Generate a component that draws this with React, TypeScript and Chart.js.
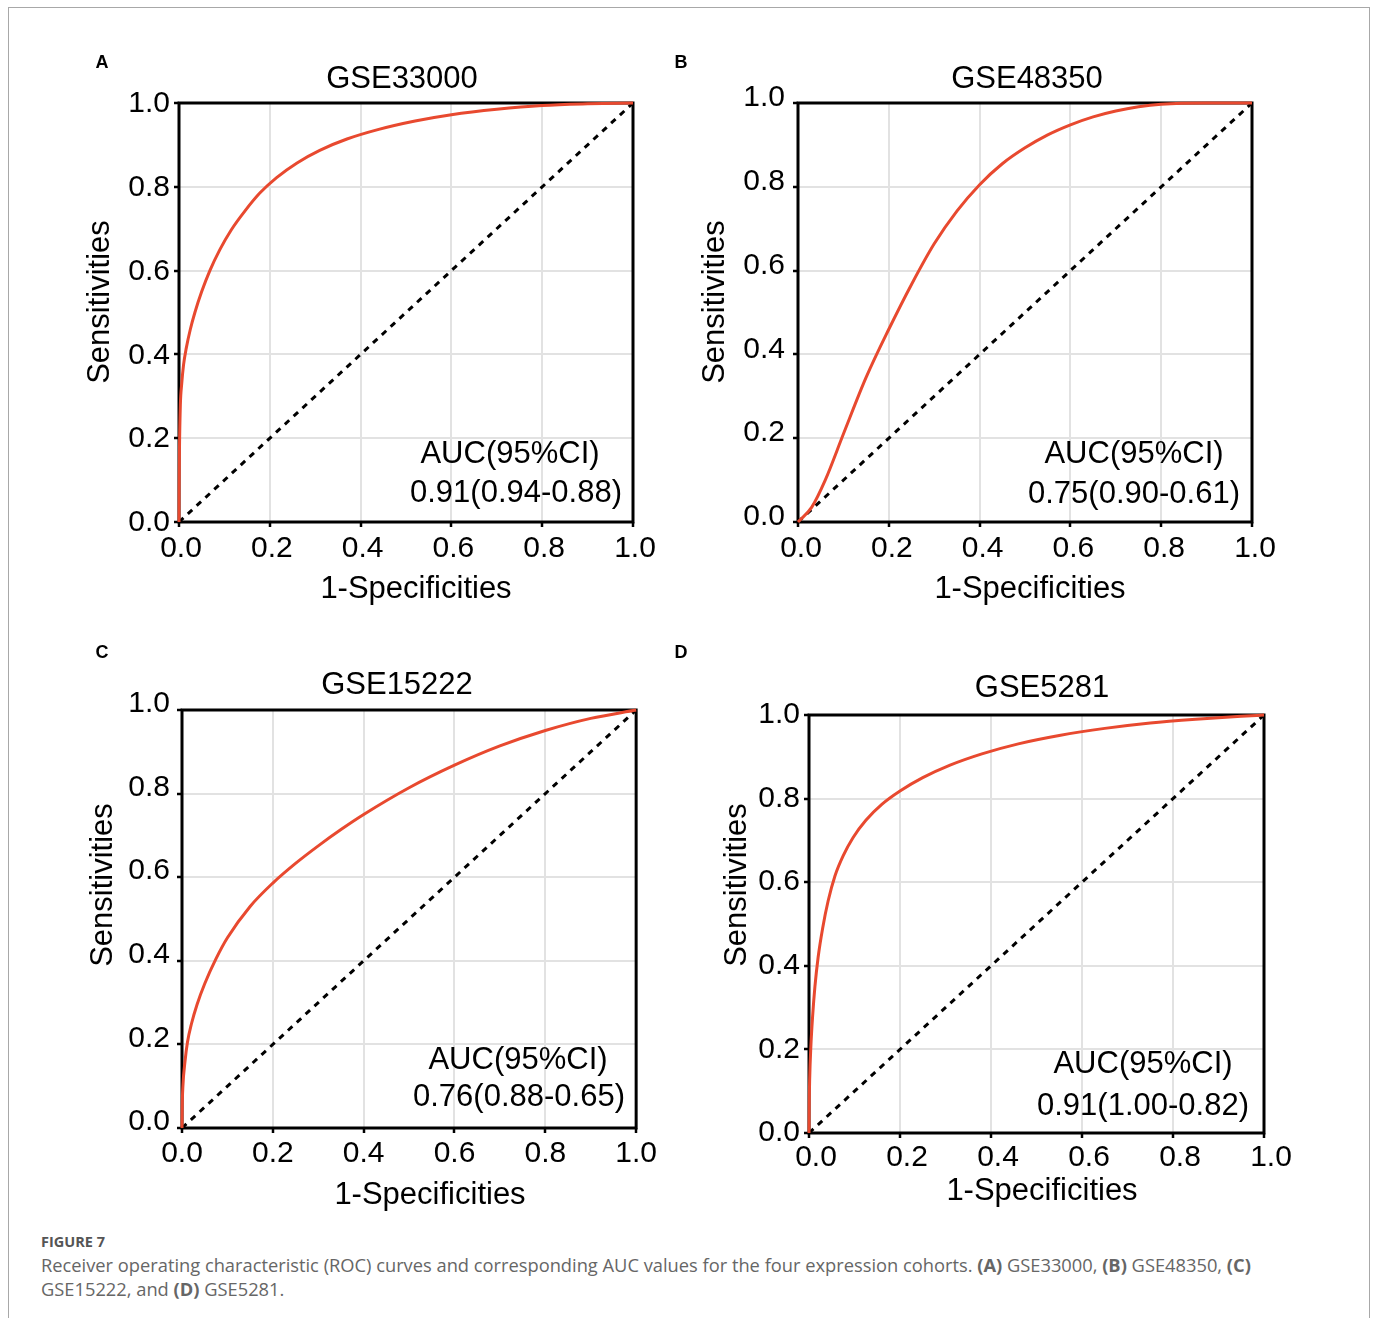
import React, { useEffect, useRef } from "react";
import { Chart, registerables } from "chart.js";

Chart.register(...registerables);

// ---------- data ----------
const tickValues = [0, 0.2, 0.4, 0.6, 0.8, 1.0];
const diagX = [0, 1];
const diagY = [0, 1];

const fprA = [0, 0.0003, 0.001, 0.003, 0.006, 0.01, 0.016, 0.025, 0.035, 0.05, 0.068, 0.09, 0.115, 0.145, 0.178, 0.215, 0.26, 0.31, 0.37, 0.44, 0.52, 0.6, 0.7, 0.8, 0.9, 1.0];
const sensA = [0, 0.08, 0.17, 0.28, 0.33, 0.375, 0.415, 0.46, 0.5, 0.55, 0.6, 0.65, 0.697, 0.742, 0.785, 0.822, 0.857, 0.887, 0.914, 0.937, 0.957, 0.972, 0.985, 0.994, 0.998, 1.0];

const fprB = [0, 0.03, 0.06, 0.1, 0.15, 0.2, 0.25, 0.3, 0.35, 0.4, 0.45, 0.5, 0.55, 0.6, 0.65, 0.7, 0.75, 0.8, 0.9, 1.0];
const sensB = [0, 0.035, 0.1, 0.21, 0.345, 0.46, 0.567, 0.664, 0.742, 0.805, 0.855, 0.893, 0.924, 0.948, 0.967, 0.981, 0.991, 0.997, 1.0, 1.0];

const fprC = [0, 0.0005, 0.002, 0.0067, 0.012, 0.021, 0.033, 0.05, 0.075, 0.1, 0.15, 0.2, 0.25, 0.3, 0.35, 0.4, 0.5, 0.6, 0.7, 0.8, 0.9, 1.0];
const sensC = [0, 0.05, 0.1, 0.16, 0.205, 0.25, 0.295, 0.345, 0.405, 0.455, 0.53, 0.586, 0.633, 0.675, 0.714, 0.75, 0.814, 0.868, 0.914, 0.951, 0.98, 1.0];

const fprD = [0, 0.0005, 0.0015, 0.004, 0.008, 0.013, 0.02, 0.03, 0.042, 0.057, 0.075, 0.097, 0.125, 0.16, 0.2, 0.25, 0.31, 0.38, 0.46, 0.55, 0.65, 0.75, 0.85, 0.95, 1.0];
const sensD = [0, 0.07, 0.13, 0.205, 0.28, 0.35, 0.42, 0.49, 0.555, 0.615, 0.663, 0.707, 0.748, 0.786, 0.818, 0.85, 0.88, 0.907, 0.931, 0.951, 0.968, 0.981, 0.99, 0.997, 1.0];

const panelLetters = ["A", "B", "C", "D"];
const cohortNames = ["GSE33000", "GSE48350", "GSE15222", "GSE5281"];
const aucHeader = "AUC(95%CI)";
const aucValues = ["0.91(0.94-0.88)", "0.75(0.90-0.61)", "0.76(0.88-0.65)", "0.91(1.00-0.82)"];
const xTitle = "1-Specificities";
const yTitle = "Sensitivities";

// ---------- layout (page coordinates) ----------
type Layout = {
  box: number[]; plot: number[];
  letter: number[]; title: number[]; xt: number[]; yt: number[]; a1: number[]; a2: number[];
  yPad: number; yOff: number; xPad: number; xOff: number;
};
const layouts: Layout[] = [
  { box: [40, 30, 620, 600], plot: [179, 103, 633, 522], letter: [102, 62], title: [402, 77], xt: [416, 587], yt: [98, 302], a1: [510, 452], a2: [516, 491], yPad: 4, yOff: 1, xPad: 4, xOff: 2 },
  { box: [660, 30, 665, 600], plot: [798, 103, 1252, 522], letter: [681, 62], title: [1027, 77], xt: [1030, 587], yt: [713, 302], a1: [1134, 452], a2: [1134, 492], yPad: 8, yOff: -5, xPad: 4, xOff: 3 },
  { box: [40, 630, 620, 590], plot: [182, 710, 637, 1128], letter: [102, 652], title: [397, 683], xt: [430, 1193], yt: [101, 885], a1: [518, 1058], a2: [519, 1095], yPad: 7, yOff: -6, xPad: 3, xOff: 0 },
  { box: [660, 630, 700, 590], plot: [809, 715, 1264, 1133], letter: [681, 652], title: [1042, 686], xt: [1042, 1189], yt: [735, 885], a1: [1143, 1062], a2: [1143, 1104], yPad: 4, yOff: 0, xPad: 2, xOff: 7 },
];

const seriesFpr = [fprA, fprB, fprC, fprD];
const seriesSens = [sensA, sensB, sensC, sensD];

const FONT = '"Liberation Sans", Arial, Helvetica, sans-serif';
const RED = "#E8492F";
const GRID = "#e2e2e2";

function RocPanel({ idx }: { idx: number }) {
  const ref = useRef<HTMLCanvasElement>(null);
  const lay = layouts[idx];
  const [L, T, W, H] = lay.box;

  useEffect(() => {
    if (!ref.current) return;
    const [pl, pt, pr, pb] = lay.plot;

    const put = (ctx: CanvasRenderingContext2D, text: string, pos: number[], size: number, bold = false, rot = false) => {
      ctx.save();
      ctx.font = `${bold ? "bold " : ""}${size}px ${FONT}`;
      ctx.fillStyle = "#000";
      ctx.textAlign = "center";
      ctx.textBaseline = "alphabetic";
      ctx.translate(pos[0] - L, pos[1] - T);
      if (rot) ctx.rotate(-Math.PI / 2);
      ctx.fillText(text, 0, size * 0.358);
      ctx.restore();
    };

    const deco = {
      id: "rocDeco",
      beforeDatasetsDraw(chart: any) {
        const { ctx, chartArea: a } = chart;
        ctx.save();
        ctx.strokeStyle = "#000";
        ctx.lineWidth = 3;
        ctx.strokeRect(a.left, a.top, a.right - a.left, a.bottom - a.top);
        ctx.restore();
      },
      afterDraw(chart: any) {
        const ctx = chart.ctx;
        put(ctx, panelLetters[idx], lay.letter, 18, true);
        put(ctx, cohortNames[idx], lay.title, 31);
        put(ctx, xTitle, lay.xt, 31);
        put(ctx, yTitle, lay.yt, 31, false, true);
        put(ctx, aucHeader, lay.a1, 31);
        put(ctx, aucValues[idx], lay.a2, 31);
      },
    };

    const fpr = seriesFpr[idx];
    const sens = seriesSens[idx];

    const axisCommon = (isX: boolean) => ({
      type: "linear" as const,
      min: 0,
      max: 1,
      afterBuildTicks: (s: any) => {
        s.ticks = tickValues.map((v) => ({ value: v }));
      },
      afterFit: (s: any) => {
        if (isX) s.height = T + H - pb;
        else s.width = pl - L;
      },
      ticks: {
        color: "#000",
        font: { family: FONT, size: 30 },
        padding: isX ? lay.xPad : lay.yPad,
        labelOffset: isX ? lay.xOff : lay.yOff,
        maxRotation: 0,
        autoSkip: false,
        callback: (v: any) => Number(v).toFixed(1),
      },
      grid: {
        color: GRID,
        lineWidth: 2,
        tickLength: 5,
        tickColor: "#000",
        tickWidth: 2.5,
      },
      border: { display: false },
    });

    const chart = new Chart(ref.current, {
      type: "scatter",
      data: {
        datasets: [
          {
            data: fpr.map((x, i) => ({ x, y: sens[i] })),
            showLine: true,
            borderColor: RED,
            borderWidth: 3,
            pointRadius: 0,
            cubicInterpolationMode: "monotone",
            clip: false,
          } as any,
          {
            data: diagX.map((x, i) => ({ x, y: diagY[i] })),
            showLine: true,
            borderColor: "#000",
            borderWidth: 3,
            borderDash: [6, 6],
            pointRadius: 0,
            clip: false,
          } as any,
        ],
      },
      options: {
        responsive: false,
        animation: false,
        events: [],
        layout: { padding: { left: 0, top: pt - T, right: L + W - pr, bottom: 0 } },
        plugins: { legend: { display: false }, tooltip: { enabled: false }, title: { display: false } },
        scales: { x: axisCommon(true) as any, y: axisCommon(false) as any },
      },
      plugins: [deco],
    });
    return () => chart.destroy();
  }, [idx]);

  return (
    <canvas
      ref={ref}
      width={W}
      height={H}
      style={{ position: "absolute", left: L, top: T, width: W, height: H }}
    />
  );
}

const captionTitle = "FIGURE 7";
const CAPTION_FONT = "'Open Sans', Lato, sans-serif";

export default function App() {
  return (
    <div style={{ position: "absolute", left: 0, top: 0, width: 1375, height: 1318, overflow: "hidden", background: "#fff" }}>
      <div style={{ position: "absolute", left: 8, top: 7, width: 1362, height: 1400, border: "1px solid #a8a8a8", boxSizing: "border-box" }} />
      {[0, 1, 2, 3].map((i) => (
        <RocPanel key={i} idx={i} />
      ))}
      <div style={{ position: "absolute", left: 41, top: 1233, fontFamily: CAPTION_FONT, fontWeight: 700, fontSize: 14.5, color: "#555", lineHeight: "18px" }}>
        {captionTitle}
      </div>
      <div style={{ position: "absolute", left: 41, top: 1253, fontFamily: CAPTION_FONT, fontSize: 18.3, color: "#666", lineHeight: "24px", whiteSpace: "nowrap" }}>
        <div>
          Receiver operating characteristic (ROC) curves and corresponding AUC values for the four expression cohorts. <b>(A)</b> GSE33000, <b>(B)</b> GSE48350, <b>(C)</b>
        </div>
        <div>
          GSE15222, and <b>(D)</b> GSE5281.
        </div>
      </div>
    </div>
  );
}
